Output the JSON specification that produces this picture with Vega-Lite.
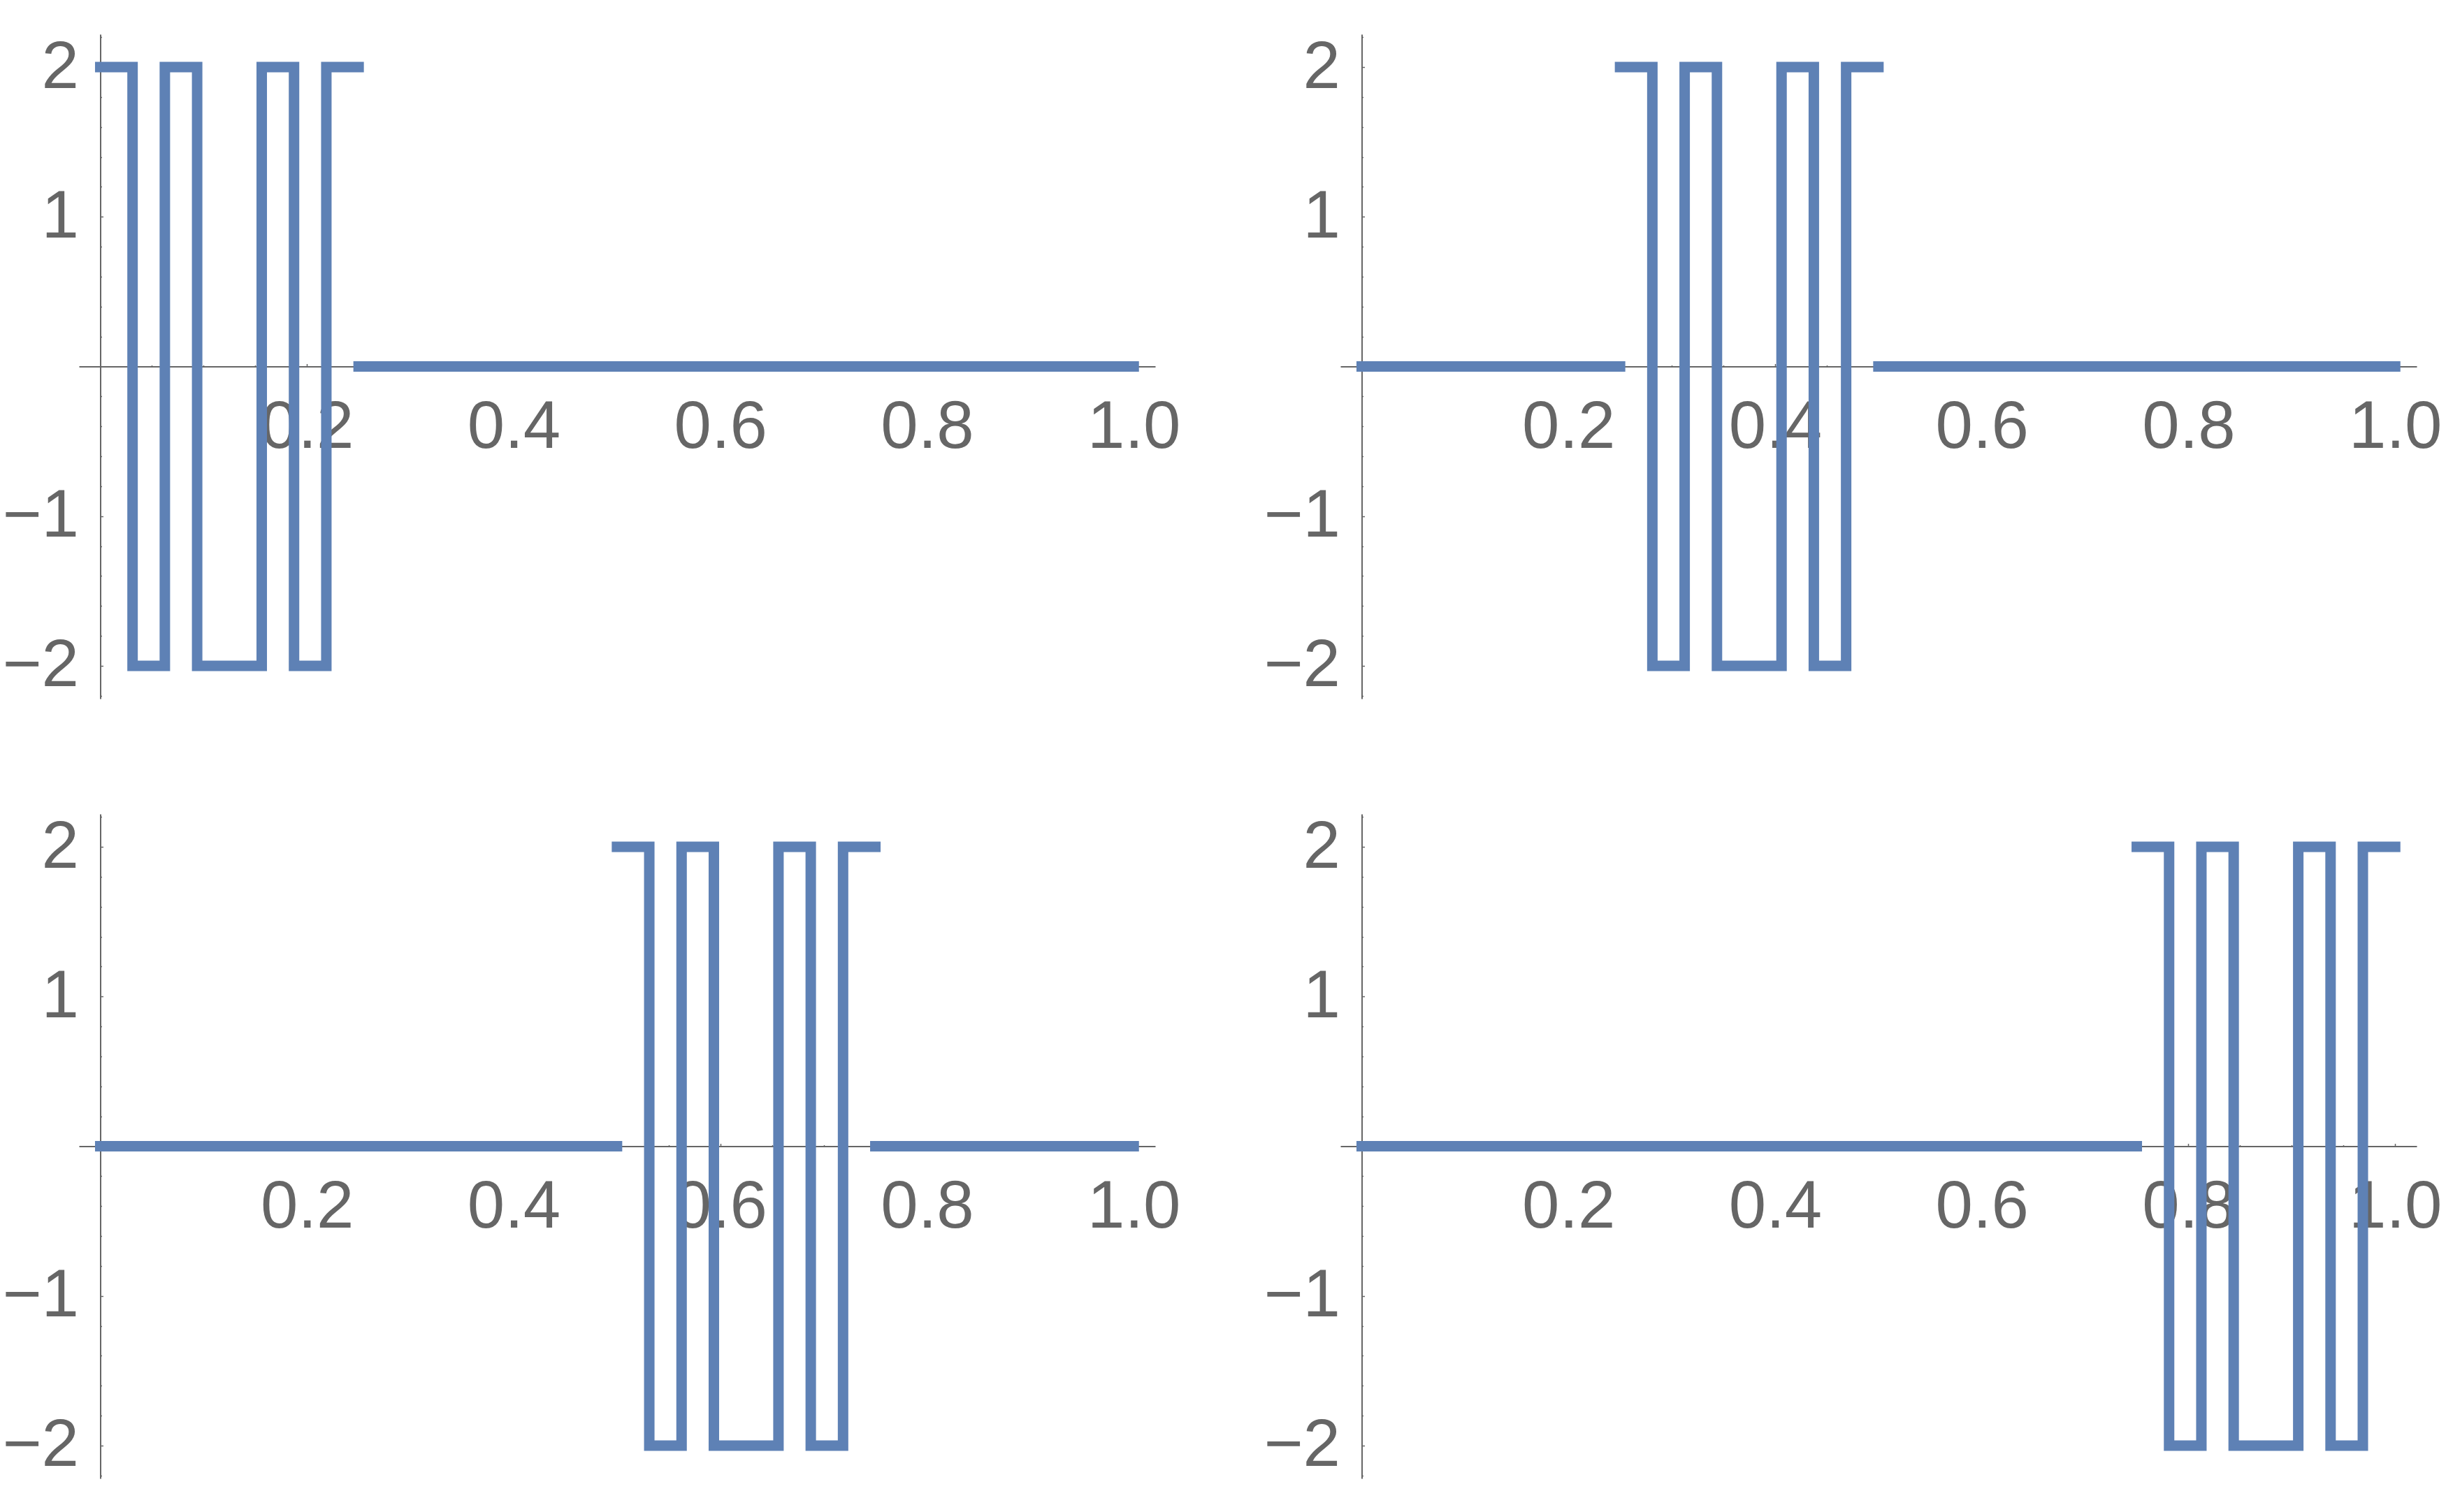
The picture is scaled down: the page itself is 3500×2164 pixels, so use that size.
{
  "$schema": "https://vega.github.io/schema/vega-lite/v6.json",
  "autosize": {"type": "pad"},
  "padding": {"left": 3, "top": 5, "right": 0, "bottom": 0},
  "background": "white",
  "datasets": {"steps": [
    {"panel": "a", "seg": "a1", "x": 0, "y": 2},
    {"panel": "a", "seg": "a1", "x": 0.03125, "y": -2},
    {"panel": "a", "seg": "a1", "x": 0.0625, "y": 2},
    {"panel": "a", "seg": "a1", "x": 0.09375, "y": -2},
    {"panel": "a", "seg": "a1", "x": 0.15625, "y": 2},
    {"panel": "a", "seg": "a1", "x": 0.1875, "y": -2},
    {"panel": "a", "seg": "a1", "x": 0.21875, "y": 2},
    {"panel": "a", "seg": "a1", "x": 0.25, "y": 2},
    {"panel": "a", "seg": "a2", "x": 0.25, "y": 0},
    {"panel": "a", "seg": "a2", "x": 1, "y": 0},

    {"panel": "b", "seg": "b0", "x": 0, "y": 0},
    {"panel": "b", "seg": "b0", "x": 0.25, "y": 0},
    {"panel": "b", "seg": "b1", "x": 0.25, "y": 2},
    {"panel": "b", "seg": "b1", "x": 0.28125, "y": -2},
    {"panel": "b", "seg": "b1", "x": 0.3125, "y": 2},
    {"panel": "b", "seg": "b1", "x": 0.34375, "y": -2},
    {"panel": "b", "seg": "b1", "x": 0.40625, "y": 2},
    {"panel": "b", "seg": "b1", "x": 0.4375, "y": -2},
    {"panel": "b", "seg": "b1", "x": 0.46875, "y": 2},
    {"panel": "b", "seg": "b1", "x": 0.5, "y": 2},
    {"panel": "b", "seg": "b2", "x": 0.5, "y": 0},
    {"panel": "b", "seg": "b2", "x": 1, "y": 0},

    {"panel": "c", "seg": "c0", "x": 0, "y": 0},
    {"panel": "c", "seg": "c0", "x": 0.5, "y": 0},
    {"panel": "c", "seg": "c1", "x": 0.5, "y": 2},
    {"panel": "c", "seg": "c1", "x": 0.53125, "y": -2},
    {"panel": "c", "seg": "c1", "x": 0.5625, "y": 2},
    {"panel": "c", "seg": "c1", "x": 0.59375, "y": -2},
    {"panel": "c", "seg": "c1", "x": 0.65625, "y": 2},
    {"panel": "c", "seg": "c1", "x": 0.6875, "y": -2},
    {"panel": "c", "seg": "c1", "x": 0.71875, "y": 2},
    {"panel": "c", "seg": "c1", "x": 0.75, "y": 2},
    {"panel": "c", "seg": "c2", "x": 0.75, "y": 0},
    {"panel": "c", "seg": "c2", "x": 1, "y": 0},

    {"panel": "d", "seg": "d0", "x": 0, "y": 0},
    {"panel": "d", "seg": "d0", "x": 0.75, "y": 0},
    {"panel": "d", "seg": "d1", "x": 0.75, "y": 2},
    {"panel": "d", "seg": "d1", "x": 0.78125, "y": -2},
    {"panel": "d", "seg": "d1", "x": 0.8125, "y": 2},
    {"panel": "d", "seg": "d1", "x": 0.84375, "y": -2},
    {"panel": "d", "seg": "d1", "x": 0.90625, "y": 2},
    {"panel": "d", "seg": "d1", "x": 0.9375, "y": -2},
    {"panel": "d", "seg": "d1", "x": 0.96875, "y": 2},
    {"panel": "d", "seg": "d1", "x": 1, "y": 2}
  ]},
  "columns": 2,
  "spacing": {"row": 165, "column": 265},
  "bounds": "flush",
  "concat": [
    {
      "data": {"name": "steps"},
      "transform": [{"filter": "datum.panel === 'a'"}],
      "width": 1540, "height": 951,
      "mark": {"type": "line", "interpolate": "step-after", "color": "#5E81B5", "strokeWidth": 15, "strokeCap": "square", "strokeJoin": "miter", "clip": false},
      "encoding": {
        "x": {"field": "x", "type": "quantitative", "scale": {"domain": [-0.0206, 1.0208], "nice": false, "zero": false},
          "axis": {"orient": "bottom", "offset": -475.5, "labelPadding": 44, "labelAlign": "center", "labelBaseline": "top",
            "values": [0.05, 0.1, 0.15, 0.2, 0.25, 0.3, 0.35, 0.4, 0.45, 0.5, 0.55, 0.6, 0.65, 0.7, 0.75, 0.8, 0.85, 0.9, 0.95, 1.0],
            "tickSize": {"condition": {"test": "abs(datum.value*5-round(datum.value*5))<0.01", "value": -4}, "value": -2},
            "labelExpr": "abs(datum.value*5-round(datum.value*5))<0.01 ? format(datum.value,'.1f') : ''"}},
        "y": {"field": "y", "type": "quantitative", "scale": {"domain": [-2.22, 2.22], "nice": false, "zero": false},
          "axis": {"orient": "left", "offset": -30.5, "labelPadding": 35, "labelAlign": "right", "labelBaseline": "middle",
            "values": [-2.2, -2, -1.8, -1.6, -1.4, -1.2, -1, -0.8, -0.6, -0.4, -0.2, 0.2, 0.4, 0.6, 0.8, 1, 1.2, 1.4, 1.6, 1.8, 2, 2.2],
            "tickSize": {"condition": {"test": "abs(datum.value-round(datum.value))<0.01", "value": -4}, "value": -2},
            "labelExpr": "abs(datum.value-round(datum.value))<0.01 ? format(datum.value,'d') : ''"}},
        "detail": {"field": "seg", "type": "nominal"}
      }
    },
    {
      "data": {"name": "steps"},
      "transform": [{"filter": "datum.panel === 'b'"}],
      "width": 1540, "height": 951,
      "mark": {"type": "line", "interpolate": "step-after", "color": "#5E81B5", "strokeWidth": 15, "strokeCap": "square", "strokeJoin": "miter", "clip": false},
      "encoding": {
        "x": {"field": "x", "type": "quantitative", "scale": {"domain": [-0.0206, 1.0208], "nice": false, "zero": false},
          "axis": {"orient": "bottom", "offset": -475.5, "labelPadding": 44, "labelAlign": "center", "labelBaseline": "top",
            "values": [0.05, 0.1, 0.15, 0.2, 0.25, 0.3, 0.35, 0.4, 0.45, 0.5, 0.55, 0.6, 0.65, 0.7, 0.75, 0.8, 0.85, 0.9, 0.95, 1.0],
            "tickSize": {"condition": {"test": "abs(datum.value*5-round(datum.value*5))<0.01", "value": -4}, "value": -2},
            "labelExpr": "abs(datum.value*5-round(datum.value*5))<0.01 ? format(datum.value,'.1f') : ''"}},
        "y": {"field": "y", "type": "quantitative", "scale": {"domain": [-2.22, 2.22], "nice": false, "zero": false},
          "axis": {"orient": "left", "offset": -30.5, "labelPadding": 35, "labelAlign": "right", "labelBaseline": "middle",
            "values": [-2.2, -2, -1.8, -1.6, -1.4, -1.2, -1, -0.8, -0.6, -0.4, -0.2, 0.2, 0.4, 0.6, 0.8, 1, 1.2, 1.4, 1.6, 1.8, 2, 2.2],
            "tickSize": {"condition": {"test": "abs(datum.value-round(datum.value))<0.01", "value": -4}, "value": -2},
            "labelExpr": "abs(datum.value-round(datum.value))<0.01 ? format(datum.value,'d') : ''"}},
        "detail": {"field": "seg", "type": "nominal"}
      }
    },
    {
      "data": {"name": "steps"},
      "transform": [{"filter": "datum.panel === 'c'"}],
      "width": 1540, "height": 951,
      "mark": {"type": "line", "interpolate": "step-after", "color": "#5E81B5", "strokeWidth": 15, "strokeCap": "square", "strokeJoin": "miter", "clip": false},
      "encoding": {
        "x": {"field": "x", "type": "quantitative", "scale": {"domain": [-0.0206, 1.0208], "nice": false, "zero": false},
          "axis": {"orient": "bottom", "offset": -475.5, "labelPadding": 44, "labelAlign": "center", "labelBaseline": "top",
            "values": [0.05, 0.1, 0.15, 0.2, 0.25, 0.3, 0.35, 0.4, 0.45, 0.5, 0.55, 0.6, 0.65, 0.7, 0.75, 0.8, 0.85, 0.9, 0.95, 1.0],
            "tickSize": {"condition": {"test": "abs(datum.value*5-round(datum.value*5))<0.01", "value": -4}, "value": -2},
            "labelExpr": "abs(datum.value*5-round(datum.value*5))<0.01 ? format(datum.value,'.1f') : ''"}},
        "y": {"field": "y", "type": "quantitative", "scale": {"domain": [-2.22, 2.22], "nice": false, "zero": false},
          "axis": {"orient": "left", "offset": -30.5, "labelPadding": 35, "labelAlign": "right", "labelBaseline": "middle",
            "values": [-2.2, -2, -1.8, -1.6, -1.4, -1.2, -1, -0.8, -0.6, -0.4, -0.2, 0.2, 0.4, 0.6, 0.8, 1, 1.2, 1.4, 1.6, 1.8, 2, 2.2],
            "tickSize": {"condition": {"test": "abs(datum.value-round(datum.value))<0.01", "value": -4}, "value": -2},
            "labelExpr": "abs(datum.value-round(datum.value))<0.01 ? format(datum.value,'d') : ''"}},
        "detail": {"field": "seg", "type": "nominal"}
      }
    },
    {
      "data": {"name": "steps"},
      "transform": [{"filter": "datum.panel === 'd'"}],
      "width": 1540, "height": 951,
      "mark": {"type": "line", "interpolate": "step-after", "color": "#5E81B5", "strokeWidth": 15, "strokeCap": "square", "strokeJoin": "miter", "clip": false},
      "encoding": {
        "x": {"field": "x", "type": "quantitative", "scale": {"domain": [-0.0206, 1.0208], "nice": false, "zero": false},
          "axis": {"orient": "bottom", "offset": -475.5, "labelPadding": 44, "labelAlign": "center", "labelBaseline": "top",
            "values": [0.05, 0.1, 0.15, 0.2, 0.25, 0.3, 0.35, 0.4, 0.45, 0.5, 0.55, 0.6, 0.65, 0.7, 0.75, 0.8, 0.85, 0.9, 0.95, 1.0],
            "tickSize": {"condition": {"test": "abs(datum.value*5-round(datum.value*5))<0.01", "value": -4}, "value": -2},
            "labelExpr": "abs(datum.value*5-round(datum.value*5))<0.01 ? format(datum.value,'.1f') : ''"}},
        "y": {"field": "y", "type": "quantitative", "scale": {"domain": [-2.22, 2.22], "nice": false, "zero": false},
          "axis": {"orient": "left", "offset": -30.5, "labelPadding": 35, "labelAlign": "right", "labelBaseline": "middle",
            "values": [-2.2, -2, -1.8, -1.6, -1.4, -1.2, -1, -0.8, -0.6, -0.4, -0.2, 0.2, 0.4, 0.6, 0.8, 1, 1.2, 1.4, 1.6, 1.8, 2, 2.2],
            "tickSize": {"condition": {"test": "abs(datum.value-round(datum.value))<0.01", "value": -4}, "value": -2},
            "labelExpr": "abs(datum.value-round(datum.value))<0.01 ? format(datum.value,'d') : ''"}},
        "detail": {"field": "seg", "type": "nominal"}
      }
    }
  ],
  "config": {
    "view": {"stroke": null},
    "axis": {
      "title": null, "grid": false,
      "domainColor": "#666666", "domainWidth": 2,
      "tickColor": "#666666", "tickWidth": 1.5,
      "labelFont": "Liberation Sans", "labelFontSize": 96, "labelColor": "#666666",
      "labelOverlap": false, "labelFlush": false, "labelBound": false, "zindex": 1
    }
  }
}
